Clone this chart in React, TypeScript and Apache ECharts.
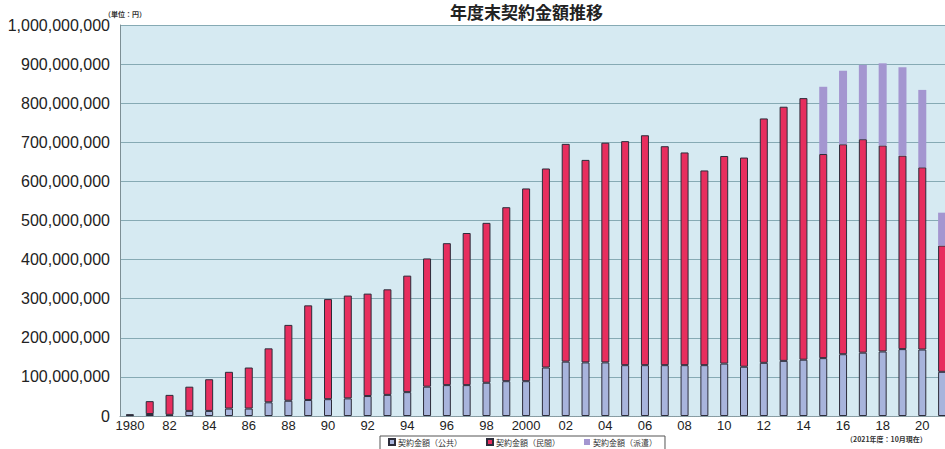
import React, { useEffect, useRef } from "react";
import * as echarts from "echarts";

const years = [
  "1980", "81", "82", "83", "84", "85", "86", "87", "88", "89",
  "90", "91", "92", "93", "94", "95", "96", "97", "98", "99",
  "2000", "01", "02", "03", "04", "05", "06", "07", "08", "09",
  "10", "11", "12", "13", "14", "15", "16", "17", "18", "19",
  "20", "21",
];

// values in million yen
const publicM = [
  2, 5, 3, 13, 13, 19, 19, 35, 39, 41,
  43, 45, 51, 54, 61, 75, 79, 79, 85, 89,
  89, 124, 139, 137, 137, 130, 130, 130, 130, 130,
  134, 126, 136, 141, 144, 148, 158, 162, 165, 171,
  170, 113,
];
const privateM = [
  2, 33, 51, 62, 81, 94, 105, 138, 194, 242,
  256, 263, 262, 270, 298, 328, 363, 389, 409, 445,
  493, 509, 557, 518, 562, 573, 588, 560, 544, 498,
  531, 535, 625, 650, 669, 522, 537, 546, 527, 495,
  466, 323,
];
const dispatchM = [
  0, 0, 0, 0, 0, 0, 0, 0, 0, 0,
  0, 0, 0, 0, 0, 0, 0, 0, 0, 0,
  0, 0, 0, 0, 0, 0, 0, 0, 0, 0,
  0, 0, 0, 0, 0, 172, 188, 190, 210, 226,
  198, 84,
];

const seriesNames = ["契約金額（公共）", "契約金額（民間）", "契約金額（派遣）"];
const yTicks = { min: 0, max: 1000000000, interval: 100000000 };

const JP = '"Noto Sans CJK JP", sans-serif';
const LAT = '"Liberation Sans", Arial, sans-serif';

export default function App() {
  const ref = useRef<HTMLDivElement>(null);
  useEffect(() => {
    if (!ref.current) return;
    const chart = echarts.init(ref.current, undefined, { renderer: "svg" });
    const toYen = (a: number[]) => a.map((v) => v * 1000000);
    chart.setOption({
      animation: false,
      backgroundColor: "#ffffff",
      title: {
        text: "年度末契約金額推移",
        left: 450,
        top: 2,
        padding: 0,
        textStyle: { fontFamily: JP, fontSize: 17, lineHeight: 18, fontWeight: "bold", color: "#222" },
      },
      legend: {
        left: 380,
        top: 436,
        padding: [2, 8, 4, 8],
        itemGap: 24,
        itemWidth: 6,
        itemHeight: 6,
        icon: "rect",
        borderColor: "#555",
        borderWidth: 1,
        textStyle: { fontFamily: JP, fontSize: 8, color: "#333", padding: [0, 0, 0, -2] },
        data: seriesNames,
      },
      graphic: [
        {
          type: "text",
          left: 104,
          top: 10,
          style: { text: "（単位：円）", font: `bold 7px ${JP}`, fill: "#333" },
        },
        {
          type: "text",
          left: 846,
          top: 435,
          style: { text: "（2021年度：10月現在）", font: `bold 7px ${JP}`, fill: "#333" },
        },
      ],
      grid: {
        left: 120,
        right: 0,
        top: 25,
        bottom: 33,
        show: true,
        backgroundColor: "#d6eaf2",
        borderWidth: 0,
      },
      xAxis: {
        type: "category",
        data: years,
        axisLabel: {
          interval: 1,
          fontFamily: LAT,
          fontSize: 13,
          color: "#222",
          margin: 3,
        },
        axisTick: { show: false },
        axisLine: { lineStyle: { color: "#8a9aa0", type: "dotted", width: 1 } },
      },
      yAxis: {
        type: "value",
        min: yTicks.min,
        max: yTicks.max,
        interval: yTicks.interval,
        axisLabel: {
          fontFamily: LAT,
          fontSize: 16,
          color: "#222",
          margin: 10,
          formatter: (v: number) => v.toLocaleString("en-US"),
        },
        axisLine: { show: true, lineStyle: { color: "#7d8f95", width: 1 } },
        axisTick: { show: false },
        splitLine: { lineStyle: { color: "#86aab4", width: 1 } },
      },
      series: [
        {
          name: seriesNames[0],
          type: "bar",
          stack: "total",
          barWidth: 8,
          data: toYen(publicM),
          itemStyle: { color: "#a8b4dc", borderColor: "#2c2c3a", borderWidth: 1 },
        },
        {
          name: seriesNames[1],
          type: "bar",
          stack: "total",
          barWidth: 8,
          data: toYen(privateM),
          itemStyle: { color: "#e72e5e", borderColor: "#2c2c3a", borderWidth: 1 },
        },
        {
          name: seriesNames[2],
          type: "bar",
          stack: "total",
          barWidth: 8,
          data: toYen(dispatchM),
          itemStyle: { color: "#a496d0" },
        },
      ],
    });
    return () => chart.dispose();
  }, []);
  return (
    <div
      style={{
        position: "fixed",
        left: 0,
        top: 0,
        width: 945,
        height: 449,
        overflow: "hidden",
        background: "#fff",
      }}
    >
      <div ref={ref} style={{ width: 952, height: 449 }} />
    </div>
  );
}
